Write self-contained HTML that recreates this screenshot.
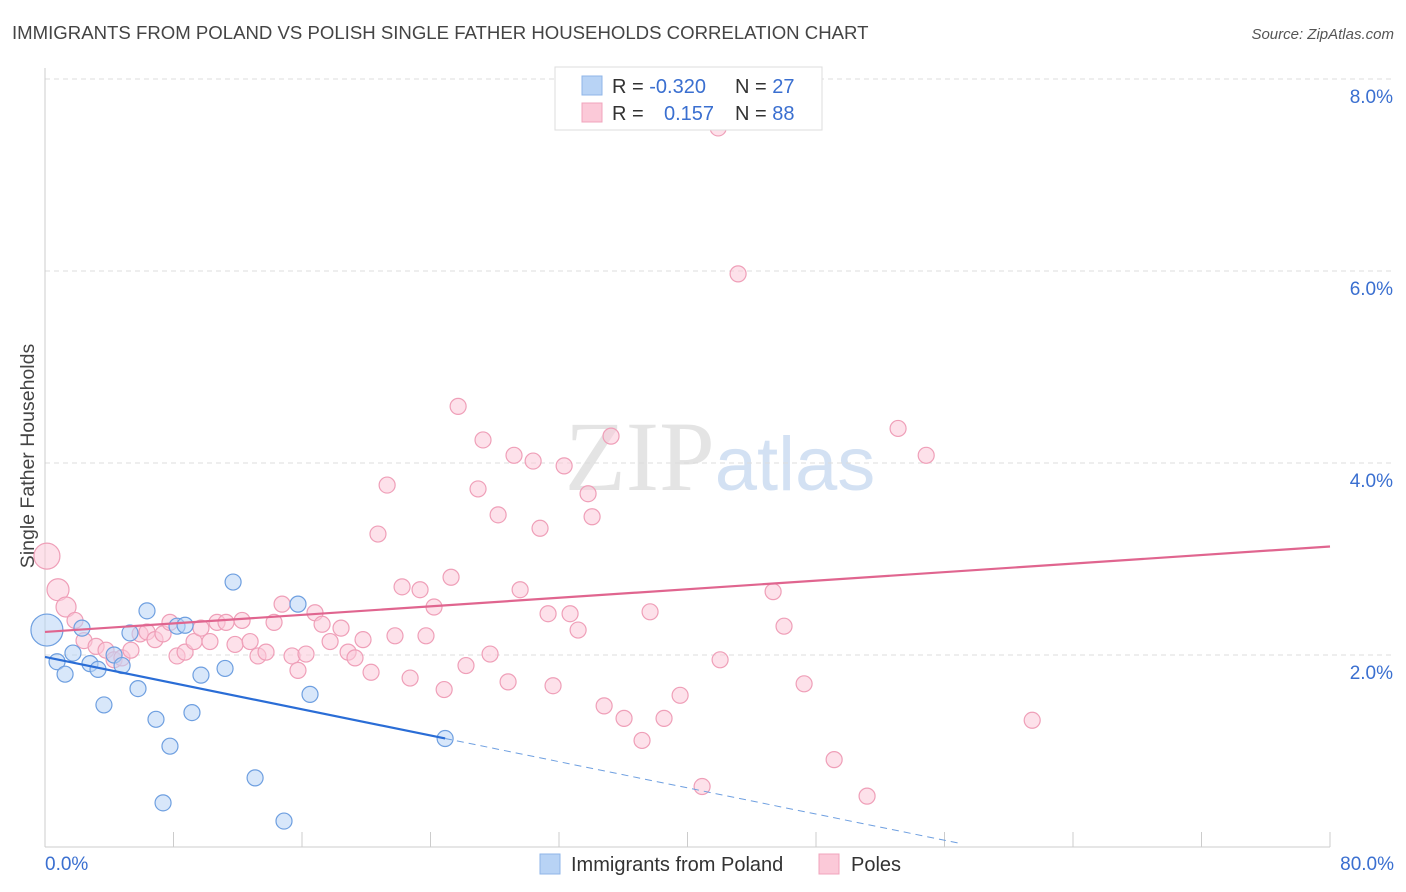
<!DOCTYPE html>
<html><head><meta charset="utf-8"><style>
body{margin:0;background:#fff;font-family:"Liberation Sans",sans-serif;}
svg{display:block}
</style></head><body>
<svg id="chart" width="1406" height="892" xmlns="http://www.w3.org/2000/svg" font-family="Liberation Sans, sans-serif">
<text x="12" y="39" font-size="18.6" fill="#444">IMMIGRANTS FROM POLAND VS POLISH SINGLE FATHER HOUSEHOLDS CORRELATION CHART</text>
<text x="1394" y="39" font-size="15" fill="#555" text-anchor="end" font-style="italic">Source: ZipAtlas.com</text>
<text x="720" y="490" font-size="100" text-anchor="middle" fill="#e4e4e4" font-family="Liberation Serif, serif">ZIP<tspan fill="#d3e1f3" font-family="Liberation Sans, sans-serif" font-size="76">atlas</tspan></text>
<text transform="translate(34,456) rotate(-90)" font-size="19.5" fill="#444" text-anchor="middle">Single Father Households</text>
<g id="grid"></g>
<g id="marks"></g>
<g>
<rect x="555" y="67" width="267" height="63" fill="#fff" stroke="#ddd"/>
<rect x="582" y="76" width="20" height="19" fill="#b8d3f5" stroke="#8fb6e8"/>
<rect x="582" y="103" width="20" height="19" fill="#fbc9d8" stroke="#f0a4bc"/>
<text x="612" y="93" font-size="20" fill="#333">R = <tspan fill="#3a6fd0">-0.320</tspan></text>
<text x="735" y="93" font-size="20" fill="#333">N = <tspan fill="#3a6fd0">27</tspan></text>
<text x="612" y="120" font-size="20" fill="#333">R = <tspan fill="#3a6fd0" x="664">0.157</tspan></text>
<text x="735" y="120" font-size="20" fill="#333">N = <tspan fill="#3a6fd0">88</tspan></text>
</g>
<g>
<rect x="540" y="854" width="20" height="20" fill="#b8d3f5" stroke="#8fb6e8"/>
<text x="571" y="871" font-size="20" fill="#333">Immigrants from Poland</text>
<rect x="819" y="854" width="20" height="20" fill="#fbc9d8" stroke="#f0a4bc"/>
<text x="851" y="871" font-size="20" fill="#333">Poles</text>
</g>
</svg>
<script>
const yTicks=[2,4,6,8];
const yTickLabels=["2.0%","4.0%","6.0%","8.0%"];
const xTickLabels=["0.0%","80.0%"];
const blueX=[0.12,0.75,1.25,2.30,1.74,2.80,3.30,3.67,4.30,4.80,5.29,5.79,6.35,6.91,7.35,7.78,8.22,8.72,9.15,9.71,11.21,11.71,13.08,14.88,15.75,16.50,24.91];
const blueY=[2.26,1.93,1.80,2.28,2.02,1.91,1.85,1.48,2.00,1.89,2.23,1.65,2.46,1.33,0.46,1.05,2.30,2.31,1.40,1.79,1.86,2.76,0.72,0.27,2.53,1.59,1.13];
const pinkX=[0.12,0.81,1.31,1.87,2.43,3.18,3.80,4.30,4.79,5.35,5.92,6.35,6.85,7.35,7.78,8.22,8.72,9.28,9.71,10.27,10.71,11.27,11.83,12.27,12.77,13.26,13.76,14.26,14.76,15.38,15.75,16.25,16.81,17.25,17.75,18.43,18.87,19.30,19.80,20.30,20.73,21.30,21.79,22.23,22.73,23.35,23.72,24.22,24.85,25.28,25.72,26.21,26.96,27.27,27.71,28.21,28.83,29.20,29.58,30.39,30.82,31.32,31.63,32.32,32.69,33.19,33.81,34.06,34.81,35.24,36.05,37.17,37.67,38.54,39.54,40.91,41.91,42.03,43.15,45.33,46.01,47.26,49.13,51.18,53.11,54.86,61.46];
const pinkY=[3.03,2.68,2.50,2.36,2.15,2.09,2.05,1.95,1.97,2.05,2.22,2.24,2.16,2.22,2.34,1.99,2.03,2.14,2.28,2.14,2.34,2.34,2.11,2.36,2.14,1.99,2.03,2.34,2.53,1.99,1.84,2.01,2.44,2.32,2.14,2.28,2.03,1.97,2.16,1.82,3.26,3.77,2.20,2.71,1.76,2.68,2.20,2.50,1.64,2.81,4.59,1.89,3.73,4.24,2.01,3.46,1.72,4.08,2.68,4.02,3.32,2.43,1.68,3.97,2.43,2.26,3.68,3.44,1.47,4.28,1.34,1.11,2.45,1.34,1.58,0.63,7.49,1.95,5.97,2.66,2.30,1.70,0.91,0.53,4.36,4.08,1.32];
const blueTrend=[1.98,-0.0341];
const pinkTrend=[2.24,0.01113];
const NS="http://www.w3.org/2000/svg";
const sx=v=>45+v*16.0625, sy=v=>847-v*96;
function mk(tag,attrs,parent){const e=document.createElementNS(NS,tag);for(const k in attrs)e.setAttribute(k,attrs[k]);parent.appendChild(e);return e;}
const grid=document.getElementById('grid'), marks=document.getElementById('marks');
yTicks.forEach((t,i)=>{
 const l=mk('line',{x1:45,x2:1394,y1:sy(t),y2:sy(t),stroke:'#ddd','stroke-dasharray':'5,4'},grid);
 
 
 const tx=mk('text',{x:1393,y:sy(t)+24,'font-size':19,fill:'#3a6fd0','text-anchor':'end'},grid);
 tx.textContent=yTickLabels[i];
 
 
});
const ax=mk('line',{x1:45,x2:1330,y1:847,y2:847,stroke:'#ccc'},grid);


const ay=mk('line',{x1:45,x2:45,y1:68,y2:847,stroke:'#ccc'},grid);


for(let i=0;i<=10;i++){const t=mk('line',{x1:sx(i*8),x2:sx(i*8),y1:832,y2:847,stroke:'#ccc'},grid);
 
 }
[[0,xTickLabels[0],'start',45],[80,xTickLabels[1],'end',1394]].forEach(a=>{const t=mk('text',{x:a[3],y:870,'font-size':19,fill:'#3a6fd0','text-anchor':a[2]},grid);t.textContent=a[1];
 
 });
function pts(X,Y,fill,stroke,name,big){X.forEach((x,i)=>{const r=big[i]||8;
 const c=mk('circle',{cx:sx(x),cy:sy(Y[i]),r:r,fill:fill,'fill-opacity':0.55,stroke:stroke,'stroke-width':1.2},marks);
 
 });}
pts(pinkX,pinkY,'#fbc9d8','#ef9fb8','poles-point',{0:13,1:11,2:10});
pts(blueX,blueY,'#b8d3f5','#6e9fe0','poland-point',{0:16});
const b0=blueTrend[0],b1=blueTrend[1];
const bl=mk('line',{x1:sx(0),y1:sy(b0),x2:sx(24.91),y2:sy(b0+b1*24.91),stroke:'#2a6dd6','stroke-width':2.2},marks);


const bd=mk('line',{x1:sx(24.91),y1:sy(b0+b1*24.91),x2:sx(57),y2:sy(b0+b1*57),stroke:'#6e9fe0','stroke-width':1,'stroke-dasharray':'7,5'},marks);


const pl=mk('line',{x1:sx(0),y1:sy(pinkTrend[0]),x2:sx(80),y2:sy(pinkTrend[0]+pinkTrend[1]*80),stroke:'#e0658f','stroke-width':2.2},marks);


</script>
</body></html>
